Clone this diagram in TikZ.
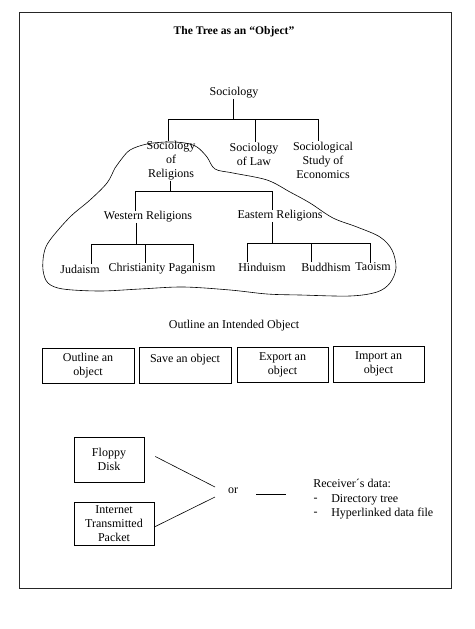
\documentclass[tikz,border=0pt]{standalone}
\usepackage{fontspec}
\setmainfont{Liberation Serif}
\begin{document}
\begin{tikzpicture}[x=1pt,y=-1pt,line width=0.6pt,
  txt/.style={inner sep=0pt,align=center,font=\fontsize{12}{14}\selectfont},
  boxnode/.style={draw,inner sep=0pt,align=center,font=\fontsize{12}{14}\selectfont},
  edge/.style={line width=0.6pt}]
\useasboundingbox (0,0) rectangle (474,629);
% frame
\draw[line width=0.7pt,black!85] (19,12) rectangle (451,588);
% title
\node[txt,font=\fontsize{11.6}{14}\selectfont\bfseries] (title) at (234,32) {The Tree as an “Object”};
% tree nodes
\node[txt] (soc) at (234,93) {Sociology};
\node[txt] (sr) at (171,161) {Sociology\\of\\Religions};
\node[txt] (sl) at (254,154) {Sociology\\of Law};
\node[txt] (se) at (323,160) {Sociological\\Study of\\Economics};
\node[txt] (wr) at (148,217) {Western Religions};
\node[txt] (er) at (280,216) {Eastern Religions};
\node[txt] (jud) at (80,269) {Judaism};
\node[txt] (chr) at (137,269) {Christianity};
\node[txt] (pag) at (192,269) {Paganism};
\node[txt] (hin) at (262,267) {Hinduism};
\node[txt] (bud) at (326,267) {Buddhism};
\node[txt] (tao) at (373,267) {Taoism};
% tree connectors
\coordinate (b0) at (233,119);
\draw[edge] (soc.south -| b0) -- (b0);
\draw[edge] (168,119) -- (318,119);
\draw[edge] (168,119) -- (sr.north -| 168,0);
\draw[edge] (255,119) -- (sl.north -| 255,0);
\draw[edge] (318,119) -- (se.north -| 318,0);
\coordinate (b1) at (170,191);
\draw[edge] (sr.south -| b1) -- (b1);
\draw[edge] (135,191) -- (272,191);
\draw[edge] (135,191) -- (wr.north -| 135,0);
\draw[edge] (272,191) -- (er.north -| 272,0);
\coordinate (b2) at (136,244);
\draw[edge] (wr.south -| b2) -- (b2);
\draw[edge] (91,244) -- (193,244);
\draw[edge] (91,244) -- (jud.north -| 91,0);
\draw[edge] (145,244) -- (chr.north -| 145,0);
\draw[edge] (193,244) -- (pag.north -| 193,0);
\coordinate (b3) at (272,243);
\draw[edge] (er.south -| b3) -- (b3);
\draw[edge] (247,243) -- (370,243);
\draw[edge] (247,243) -- (hin.north -| 247,0);
\draw[edge] (311,243) -- (bud.north -| 311,0);
\draw[edge] (370,243) -- (tao.north -| 370,0);
% blob outline
\draw[line width=0.6pt] plot[smooth cycle,tension=0.55] coordinates {
 (120,161) (130,150) (147,144) (167,142) (185,143) (197,147) (207,157) (215,169)
 (233,173) (267,180) (290,192) (310,203) (333,218) (357,227) (380,237) (392,250)
 (396,268) (390,283) (377,292) (350,296) (300,295) (267,294) (230,290) (183,287)
 (140,289) (100,291) (63,289) (48,283) (43,270) (44,253) (50,240) (70,217)
 (90,200) (107,183) (115,168)};
% outline section
\node[txt] (oio) at (234,326) {Outline an Intended Object};
\node[boxnode,minimum width=92pt,minimum height=35pt] (bx1) at (88,365.5) {Outline an\\object};
\node[boxnode,minimum width=92pt,minimum height=36pt] (bx2) at (185,365) {Save an object\\\mbox{}};
\node[boxnode,minimum width=91pt,minimum height=35pt] (bx3) at (282.5,364.5) {Export an\\object};
\node[boxnode,minimum width=91pt,minimum height=36pt] (bx4) at (378.5,364) {Import an\\object};
% bottom section
\node[boxnode,minimum width=70pt,minimum height=45pt] (fd) at (109,459.5) {Floppy\\Disk};
\node[boxnode,minimum width=80pt,minimum height=43pt] (itp) at (114,523.5) {Internet\\Transmitted\\Packet};
\node[txt] (or) at (233,491) {or};
\coordinate (f1) at ([shift={(11,-3)}]fd.east);
\coordinate (o1) at (215,487);
\coordinate (o2) at (215,497);
\draw[edge] (f1) -- (o1);
\draw[edge] (itp.east |- 0,527) -- (o2);
\coordinate (s1) at (256,494);
\coordinate (s2) at (286,494);
\draw[edge] (s1) -- (s2);
\node[txt,anchor=west] (rd) at (313,483) {Receiver´s data:};
\node[txt] (d1) at (315.5,500) {-};
\node[txt] (d2) at (315.5,514) {-};
\node[txt,anchor=west] (dt) at (331,500) {Directory tree};
\node[txt,anchor=west] (hd) at (331,514) {Hyperlinked data file};
\end{tikzpicture}
\end{document}
